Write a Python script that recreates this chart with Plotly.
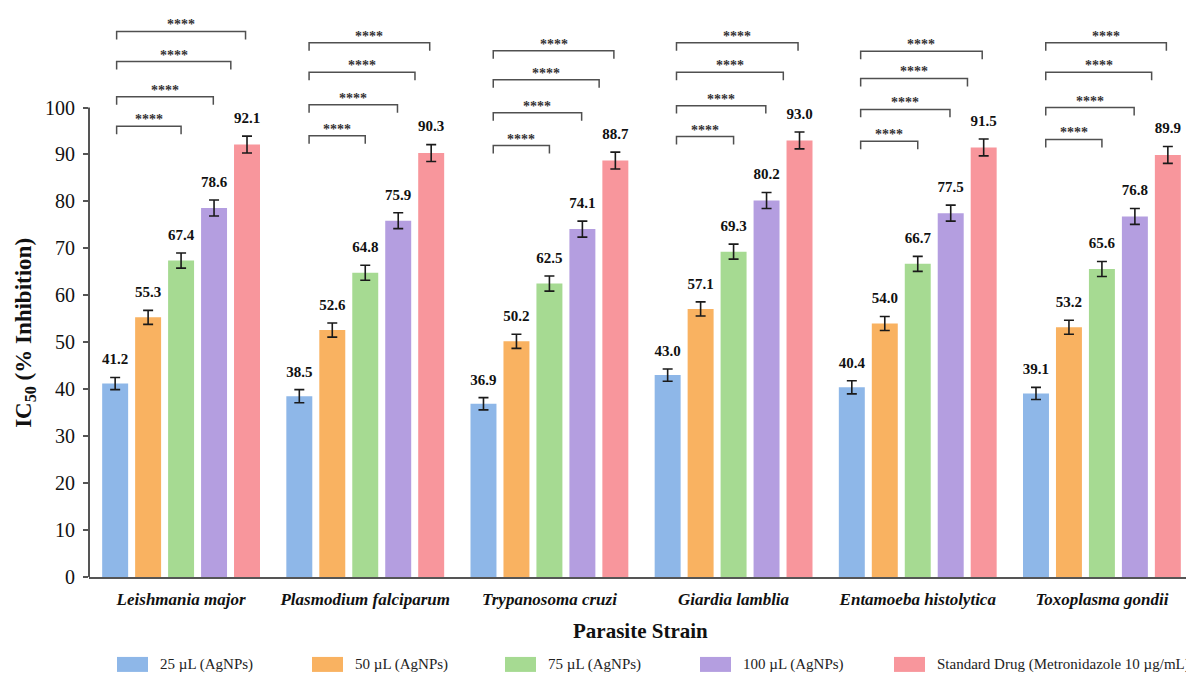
import plotly.graph_objects as go

# ---------------- data ----------------
strains = ["Leishmania major", "Plasmodium falciparum", "Trypanosoma cruzi",
           "Giardia lamblia", "Entamoeba histolytica", "Toxoplasma gondii"]
series_names = ["25 µL (AgNPs)", "50 µL (AgNPs)", "75 µL (AgNPs)",
                "100 µL (AgNPs)", "Standard Drug (Metronidazole 10 µg/mL)"]
v25 = [41.2, 38.5, 36.9, 43.0, 40.4, 39.1]
v50 = [55.3, 52.6, 50.2, 57.1, 54.0, 53.2]
v75 = [67.4, 64.8, 62.5, 69.3, 66.7, 65.6]
v100 = [78.6, 75.9, 74.1, 80.2, 77.5, 76.8]
vstd = [92.1, 90.3, 88.7, 93.0, 91.5, 89.9]
e25 = [1.3, 1.4, 1.3, 1.3, 1.4, 1.3]
e50 = [1.5, 1.5, 1.5, 1.5, 1.5, 1.5]
e75 = [1.6, 1.6, 1.6, 1.6, 1.6, 1.6]
e100 = [1.7, 1.7, 1.7, 1.7, 1.7, 1.7]
estd = [1.8, 1.8, 1.8, 1.8, 1.8, 1.8]
sig_label = "****"
y_ticks = [0, 10, 20, 30, 40, 50, 60, 70, 80, 90, 100]

values = [v25, v50, v75, v100, vstd]
errors = [e25, e50, e75, e100, estd]
colors = ["#8EB7E8", "#F9B261", "#A6DA92", "#B49EE0", "#F8969C"]

# bracket heights (per strain, 4 comparisons vs 25 µL)
bracket_levels = [
    [96.0, 102.3, 109.8, 116.2],
    [94.0, 100.6, 107.5, 113.8],
    [91.9, 98.9, 105.9, 112.1],
    [93.8, 100.4, 107.5, 113.8],
    [92.8, 99.6, 106.2, 112.0],
    [93.2, 100.0, 107.5, 113.8],
]
bracket_start = [-0.35, -0.305, -0.305, -0.31, -0.31, -0.305]
bracket_end = [0.0, 0.175, 0.27, 0.35]

# ---------------- geometry ----------------
OFF = 8  # page body margin
W, H = 1194 - OFF, 681 - OFF
ML, MR, MT = 89 - OFF, 0, 0
Y0_PAGE = 577.5
MB = H - (Y0_PAGE - OFF)
PW, PH = W - ML - MR, H - MT - MB
PX_PER_UNIT = 4.699
YMAX = PH / PX_PER_UNIT
slot = 0.179
bar_w = 0.141
FONT = "Liberation Serif"


def px_x(px):
    return (px - OFF - ML) / PW


def px_y(py):
    return (PH - (py - OFF - MT)) / PH


fig = go.Figure()
groups = list(range(len(strains)))

for k, (name, vals, errs, col) in enumerate(zip(series_names, values, errors, colors)):
    xs = [g + (k - 2) * slot for g in groups]
    fig.add_trace(go.Bar(
        x=xs, y=vals, width=bar_w, name=name,
        marker=dict(color=col, line=dict(width=0)),
        error_y=dict(type="data", array=errs, visible=True,
                     color="#1a1a1a", thickness=1.6, width=5),
        showlegend=False,
    ))
    fig.add_trace(go.Scatter(
        x=xs, y=[v + e + 3.6 for v, e in zip(vals, errs)],
        mode="text", text=[f"<b>{v:.1f}</b>" for v in vals],
        textposition="middle center",
        textfont=dict(family=FONT, size=15, color="#111"),
        showlegend=False, hoverinfo="skip",
    ))

shapes = []
annotations = []
drop = 1.7
for g, levels in enumerate(bracket_levels):
    x0 = g + bracket_start[g]
    for lvl, xe in zip(levels, bracket_end):
        x1 = g + xe
        shapes.append(dict(
            type="path", xref="x", yref="y",
            path=f"M {x0},{lvl - drop} L {x0},{lvl} L {x1},{lvl} L {x1},{lvl - drop}",
            line=dict(color="#505050", width=1.5),
        ))
        annotations.append(dict(
            x=(x0 + x1) / 2, y=lvl, xref="x", yref="y",
            text=f"<b>{sig_label}</b>", showarrow=False,
            xanchor="center", yanchor="bottom", yshift=-3,
            font=dict(family=FONT, size=14, color="#333"),
        ))

# y axis line only 0..100
shapes.append(dict(type="line", xref="paper", yref="y", x0=0, x1=0, y0=0, y1=100,
                   line=dict(color="#555", width=2)))

# y-axis title
annotations.append(dict(
    x=px_x(25), y=52, xref="paper", yref="y",
    xanchor="center", yanchor="middle",
    text="<b>IC<sub>50</sub> (% Inhibition)</b>", textangle=-90,
    showarrow=False, font=dict(family=FONT, size=23, color="#111"),
))
# x-axis title
annotations.append(dict(
    x=px_x(640), y=px_y(632), xref="paper", yref="paper",
    xanchor="center", yanchor="middle",
    text="<b>Parasite Strain</b>", showarrow=False,
    font=dict(family=FONT, size=21, color="#111"),
))

# manual legend
leg_x = [117, 312, 505, 700, 894]
leg_y = 665
for name, col, lx in zip(series_names, colors, leg_x):
    shapes.append(dict(type="rect", xref="paper", yref="paper",
                       x0=px_x(lx), x1=px_x(lx + 31),
                       y0=px_y(leg_y + 7.5), y1=px_y(leg_y - 7.5),
                       fillcolor=col, line=dict(width=0)))
    annotations.append(dict(
        x=px_x(lx + 41), y=px_y(leg_y), xref="paper", yref="paper",
        xanchor="left", yanchor="middle", text=name, showarrow=False,
        font=dict(family=FONT, size=15, color="#222"),
    ))

fig.update_layout(
    width=W, height=H,
    margin=dict(l=ML, r=MR, t=MT, b=MB, pad=0),
    plot_bgcolor="white", paper_bgcolor="white",
    shapes=shapes, annotations=annotations,
    showlegend=False,
    xaxis=dict(
        range=[-0.5, 5.5], tickmode="array", tickvals=groups,
        ticktext=[f"<b><i>{s}</i></b>" for s in strains],
        showline=True, linecolor="#555", linewidth=2,
        showgrid=False, zeroline=False, ticks="",
        ticklabelstandoff=6,
        tickfont=dict(family=FONT, size=17, color="#111"),
    ),
    yaxis=dict(
        range=[0, YMAX], tickmode="array", tickvals=y_ticks,
        showline=False, showgrid=False, zeroline=False,
        ticks="outside", ticklen=5, tickwidth=1.5, tickcolor="#555",
        ticklabelstandoff=4,
        tickfont=dict(family=FONT, size=20, color="#111"),
    ),
)

fig.write_html("out.html")
